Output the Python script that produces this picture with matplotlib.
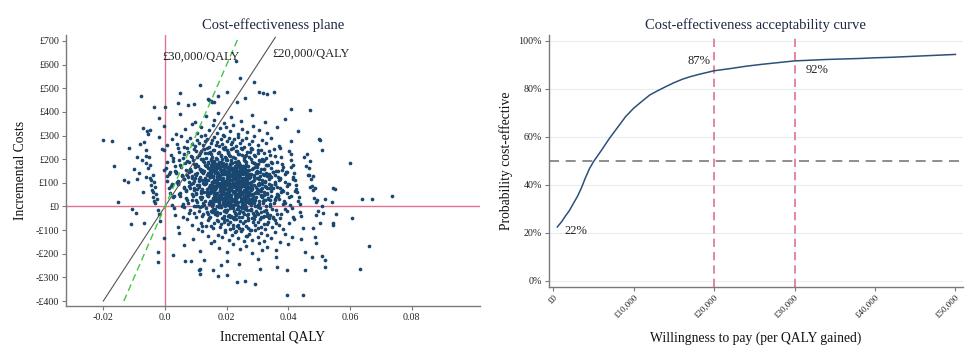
import numpy as np
import matplotlib
matplotlib.use("Agg")
import matplotlib.pyplot as plt

plt.rcParams['font.family'] = ['Liberation Serif', 'DejaVu Serif']

# ---------------- Cost-effectiveness plane: PSA iterations (read/estimated from picture)
# incremental QALY in units of 1e-4, incremental cost in GBP; each x line pairs with its y line
qaly_e4 = [
    230, 243, 112, 289,
    49, -79, 200, 140, 305, 318, 330, 353, 173,
    -35, 0, 410, 470, 148, 158, 95, 143, 152, 232, 258, 41, 76,
    -21, 48, 97, 132, 160, 171, 190, 214, 246, 281, 325, 389,
    -58, -2, 35, 66, 88, 104, 118, 131, 143, 156, 167, 178, 189, 199, 210, 222, 236, 251, 266, 284, 305, 331, 363, 432,
    -67, -20, 5, 22, 38, 51, 63, 72, 81, 89, 97, 104, 111, 118, 124, 130, 136, 142, 148, 153, 159, 164, 169, 175, 180,
    186, 191, 196, 202, 207, 213, 218, 224, 230, 236, 242, 249, 256, 264, 272, 281, 290, 301, 313, 327, 344, 368, 410,
    # 200..250
    -61, -4, 25, 41, 62, 76, 88, 95, 109, 118, 123, 137, 141, 153, 160, 166, 176, 180, 191, 198,
    203, 210, 219, 222, 233, 238, 249, 256, 262, 275, 279, 291, 300, 314, 322, 340, 353, 377, 402, 459,
    -52, -9, 21, 45, 58, 72, 84, 99, 105, 115, 127, 133, 145, 149, 157, 169, 172, 183, 187, 194,
    205, 207, 215, 226, 229, 241, 245, 259, 266, 271, 283, 288, 303, 310, 326, 336, 358, 372, 407, 450,
    130, 200, 250, 150, 280,
    # 150..200
    -55, 5, 33, 48, 70, 80, 95, 102, 117, 121, 134, 140, 152, 157, 168, 172, 183, 187, 198, 205,
    211, 214, 226, 229, 240, 244, 255, 264, 268, 282, 286, 300, 307, 321, 329, 347, 360, 384, 409, 466,
    -47, -3, 27, 52, 65, 84, 91, 106, 112, 127, 130, 145, 148, 161, 164, 177, 180, 191, 194, 201,
    208, 218, 222, 233, 236, 249, 252, 261, 272, 278, 291, 296, 310, 317, 334, 343, 364, 380, 414, 458,
    -60, 2, 31, 46, 68, 78, 97, 100, 115, 124, 136, 138, 154, 155, 170, 171, 185, 186, 199, 203,
    213, 212, 228, 227, 242, 243, 257, 259, 270, 281, 289, 297, 306, 322, 330, 342, 365, 379, 408, 470,
    190, 225, 175, 240, 160, 260, 210, 290, 140, 320,
    # 100..150
    -46, 12, 40, 56, 77, 88, 102, 110, 124, 130, 141, 148, 160, 164, 175, 180, 191, 195, 206, 212,
    219, 222, 234, 238, 247, 254, 263, 271, 278, 290, 295, 304, 318, 325, 340, 351, 372, 389, 418, 474,
    -40, 8, 36, 60, 73, 92, 98, 114, 120, 134, 139, 152, 157, 168, 172, 184, 188, 199, 203, 209,
    216, 226, 230, 241, 244, 257, 260, 273, 276, 286, 298, 308, 314, 329, 337, 355, 368, 393, 416, 468,
    -49, 15, 43, 54, 79, 86, 104, 109, 126, 129, 143, 147, 162, 163, 177, 179, 193, 194, 208, 211,
    221, 220, 236, 237, 249, 253, 265, 269, 280, 289, 297, 303, 320, 324, 342, 350, 374, 388, 421, 479,
    -36, 6, 35, 62, 71, 94, 97, 116, 119, 135, 138, 153, 155, 170, 171, 186, 187, 200, 202, 208,
    218, 227, 229, 242, 243, 258, 259, 274, 275, 287, 299, 309, 313, 330, 336, 356, 367, 394, 414, 462,
    # 50..100
    -39, 19, 47, 63, 84, 95, 109, 117, 131, 137, 148, 155, 167, 171, 182, 187, 198, 202, 213, 219,
    226, 229, 241, 245, 254, 261, 270, 278, 285, 297, 302, 311, 325, 332, 347, 358, 379, 396, 425, 481,
    -33, 15, 43, 67, 80, 99, 105, 121, 127, 141, 146, 159, 164, 175, 179, 191, 195, 206, 210, 216,
    223, 233, 237, 248, 251, 264, 267, 280, 283, 293, 305, 315, 321, 336, 344, 362, 375, 400, 423, 475,
    -42, 22, 50, 61, 86, 93, 111, 116, 133, 136, 150, 154, 169, 170, 184, 186, 200, 201, 215, 218,
    228, 227, 243, 244, 256, 260, 272, 276, 287, 296, 304, 310, 327, 331, 349, 357, 381, 395, 428, 486,
    -29, 13, 42, 69, 78, 101, 104, 123, 126, 142, 145, 160, 162, 177, 178, 193, 194, 207, 209, 215,
    225, 234, 236, 249, 250, 265, 266, 281, 282, 294, 306, 316, 320, 337, 343, 363, 374, 401, 421, 469,
    200, 240, 180, 260, 150, 300, 220, 120, 330, 210,
    # 0..50
    -31, 27, 55, 71, 92, 103, 117, 125, 139, 145, 156, 163, 175, 179, 190, 195, 206, 210, 221, 227,
    234, 237, 249, 253, 262, 269, 278, 286, 293, 305, 310, 319, 333, 340, 355, 366, 387, 404, 433, 489,
    -25, 22, 50, 75, 88, 107, 113, 129, 135, 149, 154, 167, 172, 183, 187, 199, 203, 214, 218, 224,
    231, 241, 245, 256, 259, 272, 275, 288, 291, 301, 313, 323, 329, 344, 352, 370, 383, 408, 431, 483,
    -35, 29, 58, 69, 94, 101, 119, 124, 141, 144, 158, 162, 177, 178, 192, 194, 208, 209, 223, 226,
    236, 235, 251, 252, 264, 268, 280, 284, 295, 304, 312, 318, 335, 339, 357, 365, 389, 403, 436, 494,
    150, 200, 250, 300, 180, 230, 270, 210, 160, 340, 120, 260, 190, 240, 280, 220, 170, 320, 140, 290,
    360, 100, 245, 205, 175,
    # -50..0
    -24, 34, 62, 78, 99, 110, 124, 132, 146, 152, 163, 170, 182, 186, 197, 202, 213, 217, 228, 234,
    241, 244, 256, 260, 269, 276, 285, 293, 300, 312, 317, 326, 340, 347, 362, 373, 394, 411, 440, 496,
    -18, 29, 57, 82, 95, 114, 120, 136, 142, 156, 161, 174, 179, 190, 194, 206, 210, 221, 225, 231,
    238, 248, 252, 263, 266, 279, 282, 295, 298, 308, 320, 330, 336, 351, 359, 377, 390, 415, 438, 490,
    150, 210, 260, 300, 180, 240, 330, 200, 280, 230, 170, 250, 310, 190, 270, 220, 350, 160, 290, 245,
    205, 265, 140, 320, 225,
    # -100..-50
    -16, 42, 70, 86, 107, 118, 132, 140, 154, 160, 171, 178, 190, 194, 205, 210, 221, 225, 236, 242,
    249, 252, 264, 268, 277, 284, 293, 301, 308, 320, 325, 334, 348, 355, 370, 381, 402, 419, 448, 504,
    150, 200, 250, 300, 180, 230, 270, 330, 210, 260, 120, 290, 220, 240, 190, 310, 170, 280, 360, 235,
    # -150..-100
    45, 92, 120, 141, 158, 172, 185, 196, 207, 218, 228, 237, 246, 255, 264, 273, 282, 291, 300, 310,
    320, 331, 343, 357, 372, 390, 412, 440, 230, 265,
    # -200..-150
    60, 115, 150, 175, 200, 222, 242, 262, 282, 305, 330, 360, 400, 455, -24, 313, 490,
    # -250..-200
    360, 476, 508, -24, 27, 65, 83, 126, 200, 240, 300, 180, 519,
    # -300..-250
    113, 110, 112, 173, 201, 308, 362, 394, 454, 519, 632, 156,
    # below -300
    259, 292, 235, 446, 394,
    # right-hand outliers
    735, 640, 670, 605, 661, 546, 553, 520, 540, 508, 513, 480, 600, 500, 502, 508, 545, 550, 487, 546,
    # left-hand outliers
    -202, -173, -165, -117, -3, -111, -68, -94, -108, -151, -133, -120, -90, -70, -55, -48, -80, -62, -90, -75,
    -100, -85, -60, -45, -70, -40,
    # dense core
    152, 178, 201, 226, 249, 163, 187, 214, 238, 262, 141, 170, 195, 221, 247, 273, 158, 183, 209, 232,
    255, 148, 176, 199, 224, 251, 167, 192, 217, 243, 268, 155, 181, 206, 229, 257, 145, 173, 204, 236,
    213, 239, 161, 188, 218, 244, 271, 150, 177, 203, 230, 258, 166, 191, 219, 246, 142, 171, 197, 225,
    252, 279, 159, 185, 211, 237, 264, 147, 174, 200, 227, 254, 162, 189, 215, 241, 267, 153, 180, 207,
    233, 260, 144, 168, 194, 222, 248, 156, 182, 208, 235, 263, 149, 175, 202, 228, 256, 164, 190, 216,
    242, 270, 146, 172, 198, 226, 253, 160, 186, 212, 239, 265, 151, 179, 205, 231, 259, 169, 193, 220,
    245, 157, 184, 210, 236, 262, 143, 170, 196, 223, 250, 165, 191, 218, 244, 272, 152, 178, 204, 231,
    257, 147, 174, 200, 227, 255, 161, 187, 213, 240, 266, 154, 181, 207, 234, 261, 150, 176, 203, 229,
    256, 168, 195, 221, 248, 158, 185, 211, 238, 264, 146, 173, 199, 226, 252, 163, 189, 216, 242, 269,
    155, 182, 208, 235, 261, 149, 177, 203, 230, 257, 166, 192, 219, 245, 272, 153, 179, 206, 232, 259,
]
cost = [
    615, 545, 514, 526,
    480, 468, 485, 454, 485, 481, 474, 483, 467,
    420, 422, 412, 408, 447, 441, 432, 452, 440, 443, 457, 436, 429,
    372, 391, 358, 384, 366, 397, 352, 379, 362, 388, 356, 371,
    318, 341, 306, 329, 347, 312, 336, 303, 325, 344, 310, 332, 301, 338, 319, 346, 307, 328, 315, 340, 322, 309, 337, 318,
    271, 292, 259, 284, 265, 297, 252, 278, 289, 263, 254, 283, 270, 296, 258, 275, 287, 251, 268, 280, 293, 261, 274, 256, 286,
    266, 299, 253, 277, 290, 262, 271, 284, 257, 295, 268, 279, 252, 288, 264, 276, 298, 259, 282, 270, 291, 256, 277,
    # 200..250
    212, 237, 204, 246, 221, 229, 208, 243, 216, 233, 201, 249, 225, 211, 239, 206, 231, 218, 244, 203,
    227, 214, 248, 209, 235, 222, 241, 205, 219, 230, 247, 213, 238, 202, 226, 217, 245, 210, 234, 223,
    207, 242, 219, 231, 203, 248, 215, 236, 211, 227, 244, 206, 232, 220, 239, 201, 224, 213, 246, 209,
    229, 217, 241, 204, 236, 222, 249, 212, 230, 207, 243, 218, 225, 238, 205, 233, 214, 247, 221, 210,
    228, 240, 216, 202, 245,
    # 150..200
    163, 188, 152, 176, 194, 157, 181, 169, 199, 154, 172, 186, 160, 193, 166, 178, 151, 184, 197, 162,
    175, 190, 155, 168, 182, 159, 196, 171, 153, 187, 164, 179, 192, 158, 174, 185, 150, 167, 198, 161,
    177, 156, 191, 165, 183, 152, 198, 170, 159, 187, 174, 162, 195, 153, 180, 168, 189, 157, 173, 196,
    160, 184, 151, 178, 192, 164, 171, 186, 155, 199, 167, 181, 158, 194, 175, 163, 188, 154, 176, 169,
    185, 161, 173, 197, 154, 190, 166, 179, 158, 193, 170, 183, 152, 187, 164, 176, 199, 156, 181, 168,
    195, 160, 172, 189, 153, 177, 163, 192, 171, 157, 184, 167, 198, 159, 175, 186, 150, 180, 165, 191,
    172, 158, 189, 165, 194, 153, 178, 183, 161, 196,
    # 100..150
    113, 138, 102, 127, 146, 119, 131, 107, 143, 122, 110, 135, 104, 148, 125, 116, 140, 101, 129, 111,
    144, 120, 133, 106, 149, 117, 128, 139, 103, 124, 145, 114, 136, 109, 130, 147, 121, 105, 141, 118,
    132, 108, 145, 115, 126, 101, 139, 123, 147, 112, 134, 104, 128, 142, 117, 137, 106, 149, 121, 131,
    110, 144, 125, 103, 136, 114, 148, 119, 127, 107, 140, 129, 100, 143, 116, 133, 111, 146, 124, 135,
    121, 146, 109, 134, 103, 128, 141, 116, 150, 112, 137, 125, 105, 143, 119, 131, 108, 147, 123, 136,
    101, 140, 114, 130, 118, 144, 106, 127, 139, 111, 148, 122, 133, 104, 126, 145, 115, 138, 110, 129,
    104, 127, 143, 118, 135, 109, 122, 148, 113, 131, 140, 102, 125, 146, 117, 138, 107, 133, 120, 144,
    111, 129, 149, 106, 136, 115, 142, 124, 101, 132, 119, 147, 110, 128, 139, 103, 126, 145, 116, 134,
    # 50..100
    63, 88, 52, 77, 96, 69, 81, 57, 93, 72, 60, 85, 54, 98, 75, 66, 90, 51, 79, 61,
    94, 70, 83, 56, 99, 67, 78, 89, 53, 74, 95, 64, 86, 59, 80, 97, 71, 55, 91, 68,
    82, 58, 95, 65, 76, 51, 89, 73, 97, 62, 84, 54, 78, 92, 67, 87, 56, 99, 71, 81,
    60, 94, 75, 53, 86, 64, 98, 69, 77, 57, 90, 79, 50, 93, 66, 83, 61, 96, 74, 85,
    71, 96, 59, 84, 53, 78, 91, 66, 100, 62, 87, 75, 55, 93, 69, 81, 58, 97, 73, 86,
    51, 90, 64, 80, 68, 94, 56, 77, 89, 61, 98, 72, 83, 54, 76, 95, 65, 88, 60, 79,
    54, 77, 93, 68, 85, 59, 72, 98, 63, 81, 90, 52, 75, 96, 67, 88, 57, 83, 70, 94,
    61, 79, 99, 56, 86, 65, 92, 74, 51, 82, 69, 97, 60, 78, 89, 53, 76, 95, 66, 84,
    73, 58, 91, 66, 84, 55, 97, 62, 79, 87,
    # 0..50
    13, 38, 2, 27, 46, 19, 31, 7, 43, 22, 10, 35, 4, 48, 25, 16, 40, 1, 29, 11,
    44, 20, 33, 6, 49, 17, 28, 39, 3, 24, 45, 14, 36, 9, 30, 47, 21, 5, 41, 18,
    32, 8, 45, 15, 26, 1, 39, 23, 47, 12, 34, 4, 28, 42, 17, 37, 6, 49, 21, 31,
    10, 44, 25, 3, 36, 14, 48, 19, 27, 7, 40, 29, 0, 43, 16, 33, 11, 46, 24, 35,
    21, 46, 9, 34, 3, 28, 41, 16, 50, 12, 37, 25, 5, 43, 19, 31, 8, 47, 23, 36,
    1, 40, 14, 30, 18, 44, 6, 27, 39, 11, 48, 22, 33, 4, 26, 45, 15, 38, 10, 29,
    12, 37, 23, 5, 44, 18, 31, 9, 41, 26, 2, 35, 15, 48, 20, 7, 33, 28, 46, 13,
    39, 4, 24, 17, 42,
    # -50..0
    -13, -38, -2, -27, -46, -19, -31, -7, -43, -22, -10, -35, -4, -48, -25, -16, -40, -1, -29, -11,
    -44, -20, -33, -6, -49, -17, -28, -39, -3, -24, -45, -14, -36, -9, -30, -47, -21, -5, -41, -18,
    -32, -8, -45, -15, -26, -1, -39, -23, -47, -12, -34, -4, -28, -42, -17, -37, -6, -49, -21, -31,
    -10, -44, -25, -3, -36, -14, -48, -19, -27, -7, -40, -29, -50, -43, -16, -33, -11, -46, -24, -35,
    -21, -46, -9, -34, -3, -28, -41, -16, -12, -37, -25, -5, -43, -19, -31, -8, -47, -23, -36, -1,
    -40, -14, -30, -18, -44,
    # -100..-50
    -63, -88, -52, -77, -96, -69, -81, -57, -93, -72, -60, -85, -54, -98, -75, -66, -90, -51, -79, -61,
    -94, -70, -83, -56, -99, -67, -78, -89, -53, -74, -95, -64, -86, -59, -80, -97, -71, -55, -91, -68,
    -82, -58, -95, -65, -76, -51, -89, -73, -97, -62, -84, -54, -78, -92, -67, -87, -56, -99, -71, -81,
    # -150..-100
    -113, -138, -102, -127, -146, -119, -131, -107, -143, -122, -110, -135, -104, -148, -125, -116, -140, -101, -129, -111,
    -144, -120, -133, -106, -149, -117, -128, -139, -103, -124,
    # -200..-150
    -162, -187, -153, -176, -194, -158, -181, -169, -198, -155, -172, -186, -160, -191, -193, -185, -156,
    # -250..-200
    -215, -215, -210, -235, -206, -232, -232, -225, -230, -242, -221, -247, -227,
    # -300..-250
    -263, -270, -287, -295, -290, -266, -255, -270, -270, -258, -266, -268,
    # below -300
    -315, -329, -320, -375, -375,
    # right-hand outliers
    44, 31, 31, -48, -167, -79, -30, 30, 20, 1, -26, -92, 183, 285, 280, 238, 77, 72, -128, -72,
    # left-hand outliers
    280, 276, 170, 248, -135, -75, -71, -29, -9, 18, 111, 104, 116, 330, 305, 322, 262, 240, 210, 195,
    160, 140, 125, 90, 60, 40,
    # dense core
    96, 41, 132, 67, 12, 158, 88, 23, 115, 174, 59, 140, 3, 101, 36, 79, 186, 52, 121, 9,
    146, 74, 27, 168, 93, 62, 112, 17, 153, 48, 84, 129, 33, 72, 190, 105, 57, 141, 24, 118,
    8, 95, 167, 54, 128, 71, 19, 143, 82, 39, 109, 160, 26, 97, 64, 136, 13, 178, 47, 86,
    121, 31, 155, 68, 2, 99, 44, 124, 172, 15, 81, 137, 58, 106, 35, 149, 90, 21, 184, 63,
    131, 6, 76, 119, 42, 163, 97, 29, 150, 68, 114, 51, 175, 85, 11, 139, 60, 104, 37, 162,
    77, 22, 127, 94, 56, 145, 18, 110, 171, 45, 83, 134, 4, 99, 66, 157, 38, 116, 73, 28,
    148, 65, 103, 14, 179, 50, 136, 92, 25, 117, 161, 39, 80, 8, 125, 58, 188, 71, 144, 33,
    98, 154, 19, 111, 47, 170, 87, 122, 5, 63, 141, 30, 95, 167, 52, 107, 75, 16, 138, 85,
    45, 128, 9, 96, 152, 67, 113, 34, 181, 78, 142, 21, 104, 59, 165, 88, 12, 133, 50, 119,
    174, 40, 99, 147, 26, 70, 158, 15, 124, 86, 55, 139, 3, 108, 62, 171, 31, 90, 146, 117,
]

wtp_thresholds = [20000, 30000]
threshold_labels = ["£20,000/QALY", "£30,000/QALY"]
plane_cost_ticks = list(range(-400, 701, 100))
plane_qaly_ticks = [-0.02, 0.0, 0.02, 0.04, 0.06, 0.08]
plane_qaly_ticklabels = ["-0.02", "0.0", "0.02", "0.04", "0.06", "0.08"]

# ---------------- CEAC
wtp = [500, 1000, 1500, 2000, 2500, 3000, 3500, 4000, 4500, 5000, 6000, 7000, 8000, 9000, 10000,
       11000, 12000, 13000, 14000, 15000, 16000, 17000, 18000, 19000, 20000, 22000, 24000, 26000,
       28000, 30000, 32000, 34000, 36000, 38000, 40000, 42000, 44000, 46000, 48000, 50000]
prob_ce = [22.5, 24.5, 27.0, 29.3, 32.3, 35.2, 38.8, 43.0, 46.8, 49.7, 54.5, 59.5, 64.0, 68.5, 72.0,
           74.8, 77.5, 79.3, 81.0, 82.6, 84.0, 85.1, 86.0, 86.8, 87.6, 88.5, 89.5, 90.3,
           91.0, 91.7, 92.0, 92.3, 92.5, 92.7, 93.0, 93.2, 93.5, 93.8, 94.1, 94.4]
ceac_labels = ["22%", "87%", "92%"]
wtp_ticks = [0, 10000, 20000, 30000, 40000, 50000]
wtp_ticklabels = ["£0", "£10,000", "£20,000", "£30,000", "£40,000", "£50,000"]
prob_ticks = [0, 20, 40, 60, 80, 100]

assert len(qaly_e4) == len(cost), (len(qaly_e4), len(cost))
qaly = np.array(qaly_e4) / 1e4
cost = np.array(cost, dtype=float)

NAVY = "#1a476f"
PINK = "#e0728f"
TXT = "#1c2740"
SPINE = "#7a7a7a"

fig = plt.figure(figsize=(9.8, 3.56), dpi=100)
fig.patch.set_facecolor("white")

def style(ax):
    for s in ["top", "right"]:
        ax.spines[s].set_visible(False)
    for s in ["left", "bottom"]:
        ax.spines[s].set_color(SPINE)
        ax.spines[s].set_linewidth(1.0)
    ax.tick_params(direction="out", length=3, width=0.8, color=SPINE, labelsize=7.2,
                   labelcolor="#222222", pad=2)

# ---- left panel
ax1 = fig.add_axes([0.0673, 0.1404, 0.4225, 0.7613])
style(ax1)
ax1.set_xlim(-0.0321, 0.1021)
ax1.set_ylim(-421, 725)
ax1.axhline(0, color=PINK, lw=1.0, zorder=1)
ax1.axvline(0, color=PINK, lw=1.0, zorder=1)
ax1.scatter(qaly, cost, s=7.0, color=NAVY, linewidths=0, zorder=2)
top_cost = 715
low_cost = -400
w20, w30 = wtp_thresholds
ax1.plot([low_cost / w20, top_cost / w20], [low_cost, top_cost], color="#555555", lw=0.8, zorder=3)
ax1.plot([low_cost / w30, top_cost / w30], [low_cost, top_cost], color="#44c444", lw=1.0,
         dashes=(5, 3), zorder=3)
ax1.text(0.0347, 645, threshold_labels[0], fontsize=9, color="#222222", va="center", ha="left", zorder=4)
ax1.text(-0.001, 632, threshold_labels[1], fontsize=9, color="#222222", va="center", ha="left", zorder=4)
ax1.set_yticks(plane_cost_ticks)
ax1.set_yticklabels([("-£%d" % -v) if v < 0 else ("£%d" % v) for v in plane_cost_ticks])
ax1.set_xticks(plane_qaly_ticks)
ax1.set_xticklabels(plane_qaly_ticklabels)
ax1.set_title("Cost-effectiveness plane", fontsize=10.5, color=TXT, pad=4)
ax1.set_xlabel("Incremental QALY", fontsize=9.8, color="#111111", labelpad=6)
ax1.set_ylabel("Incremental Costs", fontsize=9.8, color="#111111", labelpad=6)

# ---- right panel
ax2 = fig.add_axes([0.5599, 0.1947, 0.4224, 0.7070])
style(ax2)
ax2.set_xlim(-570, 50900)
ax2.set_ylim(-2.4, 102.5)
for v in prob_ticks:
    ax2.axhline(v, color="#e6eeef", lw=0.8, zorder=0)
ax2.axhline(50, color="#7a7a7a", lw=1.2, dashes=(6, 4), zorder=1)
for w in wtp_thresholds:
    ax2.axvline(w, color=PINK, lw=1.2, dashes=(5, 3), zorder=1)
ax2.plot(wtp, prob_ce, color="#2b5178", lw=1.1, zorder=2)
ax2.text(1330, 20.8, ceac_labels[0], fontsize=9, color="#222222", va="center", ha="left")
ax2.text(16700, 91.7, ceac_labels[1], fontsize=9, color="#222222", va="center", ha="left")
ax2.text(31350, 87.8, ceac_labels[2], fontsize=9, color="#222222", va="center", ha="left")
ax2.set_yticks(prob_ticks)
ax2.set_yticklabels(["%d%%" % v for v in prob_ticks])
ax2.set_xticks(wtp_ticks)
ax2.set_xticklabels(wtp_ticklabels, rotation=45, ha="right", rotation_mode="anchor", fontsize=6.5)
ax2.set_title("Cost-effectiveness acceptability curve", fontsize=10.5, color=TXT, pad=4)
ax2.set_xlabel("Willingness to pay (per QALY gained)", fontsize=9.8, color="#111111", labelpad=8)
ax2.set_ylabel("Probability cost-effective", fontsize=9.8, color="#111111", labelpad=4)

fig.savefig("out.png", dpi=100, facecolor="white")
